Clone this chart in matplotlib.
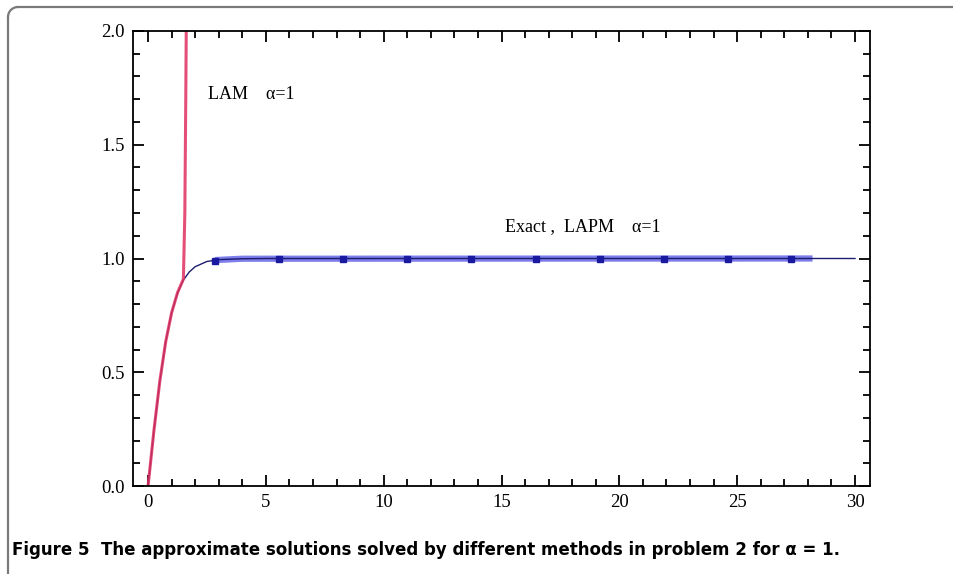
#!/usr/bin/env python3
"""
Approximate solutions of problem 2 for alpha = 1 (LAM vs exact / LAPM).
"""

import numpy as np
import matplotlib.pyplot as plt
from matplotlib.ticker import MultipleLocator
from matplotlib.patches import Arc
from matplotlib.lines import Line2D

# values
exact_x = [0, 0.25, 0.5, 0.75, 1.0, 1.25, 1.5, 1.75, 2.0, 2.5, 3.0, 4.0, 5.0, 10, 20, 30]
exact_y = [0, 0.245, 0.462, 0.635, 0.762, 0.848, 0.905, 0.941, 0.964, 0.987, 0.995,
           0.999, 1.0, 1.0, 1.0, 1.0]

lam_x = [0, 0.25, 0.5, 0.75, 1.0, 1.25, 1.5, 1.56, 1.6, 1.64]
lam_y = [0, 0.245, 0.462, 0.635, 0.762, 0.85, 0.91, 1.2, 1.7, 2.3]

lapm_x = [2.84, 5.56, 8.27, 10.99, 13.7, 16.46, 19.18, 21.89, 24.6, 27.3]
lapm_y = [0.99, 1.0, 1.0, 1.0, 1.0, 1.0, 1.0, 1.0, 1.0, 1.0]
lapm_line_x = [2.84, 4.0, 28.2]
lapm_line_y = [0.993, 0.999, 1.0]

x_ticks = [0, 5, 10, 15, 20, 25, 30]
y_ticks = [0.0, 0.5, 1.0, 1.5, 2.0]

caption = ("Figure 5  The approximate solutions solved by different methods "
           "in problem 2 for \u03b1 = 1.")


def draw_frame(fig):
    """Gray frame: top and left edges joined by a rounded corner."""
    tr = fig.dpi_scale_trans
    kw = dict(color='#7a7a7a', lw=1.6, transform=tr)
    fig.add_artist(Line2D([0.18, 9.54], [5.67, 5.67], **kw))
    fig.add_artist(Line2D([0.08, 0.08], [5.57, 0.0], **kw))
    fig.add_artist(Arc((0.18, 5.57), 0.2, 0.2, theta1=90, theta2=180,
                       edgecolor='#7a7a7a', lw=1.6, transform=tr))


def main():
    fig = plt.figure(figsize=(9.54, 5.74), dpi=100)
    draw_frame(fig)

    ax = fig.add_axes([0.1394, 0.1533, 0.7726, 0.7927])

    ax.plot(lapm_line_x, lapm_line_y, color='#5c5ce6', lw=4.5, alpha=0.8, solid_capstyle='butt')
    ax.plot(exact_x, exact_y, color='#1c1c70', lw=1.0)
    ax.plot(lam_x, lam_y, color='#e03060', lw=2.2, alpha=0.85)
    ax.plot(lapm_x, lapm_y, linestyle='none', marker='s', markersize=4.5,
            color='#1a1aa0')

    ax.set_xlim(-0.64, 30.64)
    ax.set_ylim(0, 2)
    ax.set_xticks(x_ticks)
    ax.set_yticks(y_ticks)
    ax.set_xticklabels([str(t) for t in x_ticks])
    ax.set_yticklabels([f"{t:.1f}" for t in y_ticks])
    ax.xaxis.set_minor_locator(MultipleLocator(1))
    ax.yaxis.set_minor_locator(MultipleLocator(0.1))
    ax.tick_params(which='both', direction='in', top=True, right=True, width=1.3,
                   labelsize=13.5, pad=6)
    ax.tick_params(which='major', length=8)
    ax.tick_params(which='minor', length=5)
    for lab in ax.get_xticklabels() + ax.get_yticklabels():
        lab.set_family('Liberation Serif')
    for sp in ax.spines.values():
        sp.set_linewidth(1.3)

    ax.text(2.55, 1.72, "LAM    \u03b1=1", family='Liberation Serif', fontsize=13,
            va='center', ha='left')
    ax.text(15.15, 1.14, "Exact ,  LAPM    \u03b1=1", family='Liberation Serif',
            fontsize=13, va='center', ha='left')

    fig.text(0.0126, 0.042, caption, fontsize=12, fontweight='bold',
             family='DejaVu Sans', ha='left', va='center')

    fig.savefig('out.png', dpi=100)


if __name__ == "__main__":
    main()
